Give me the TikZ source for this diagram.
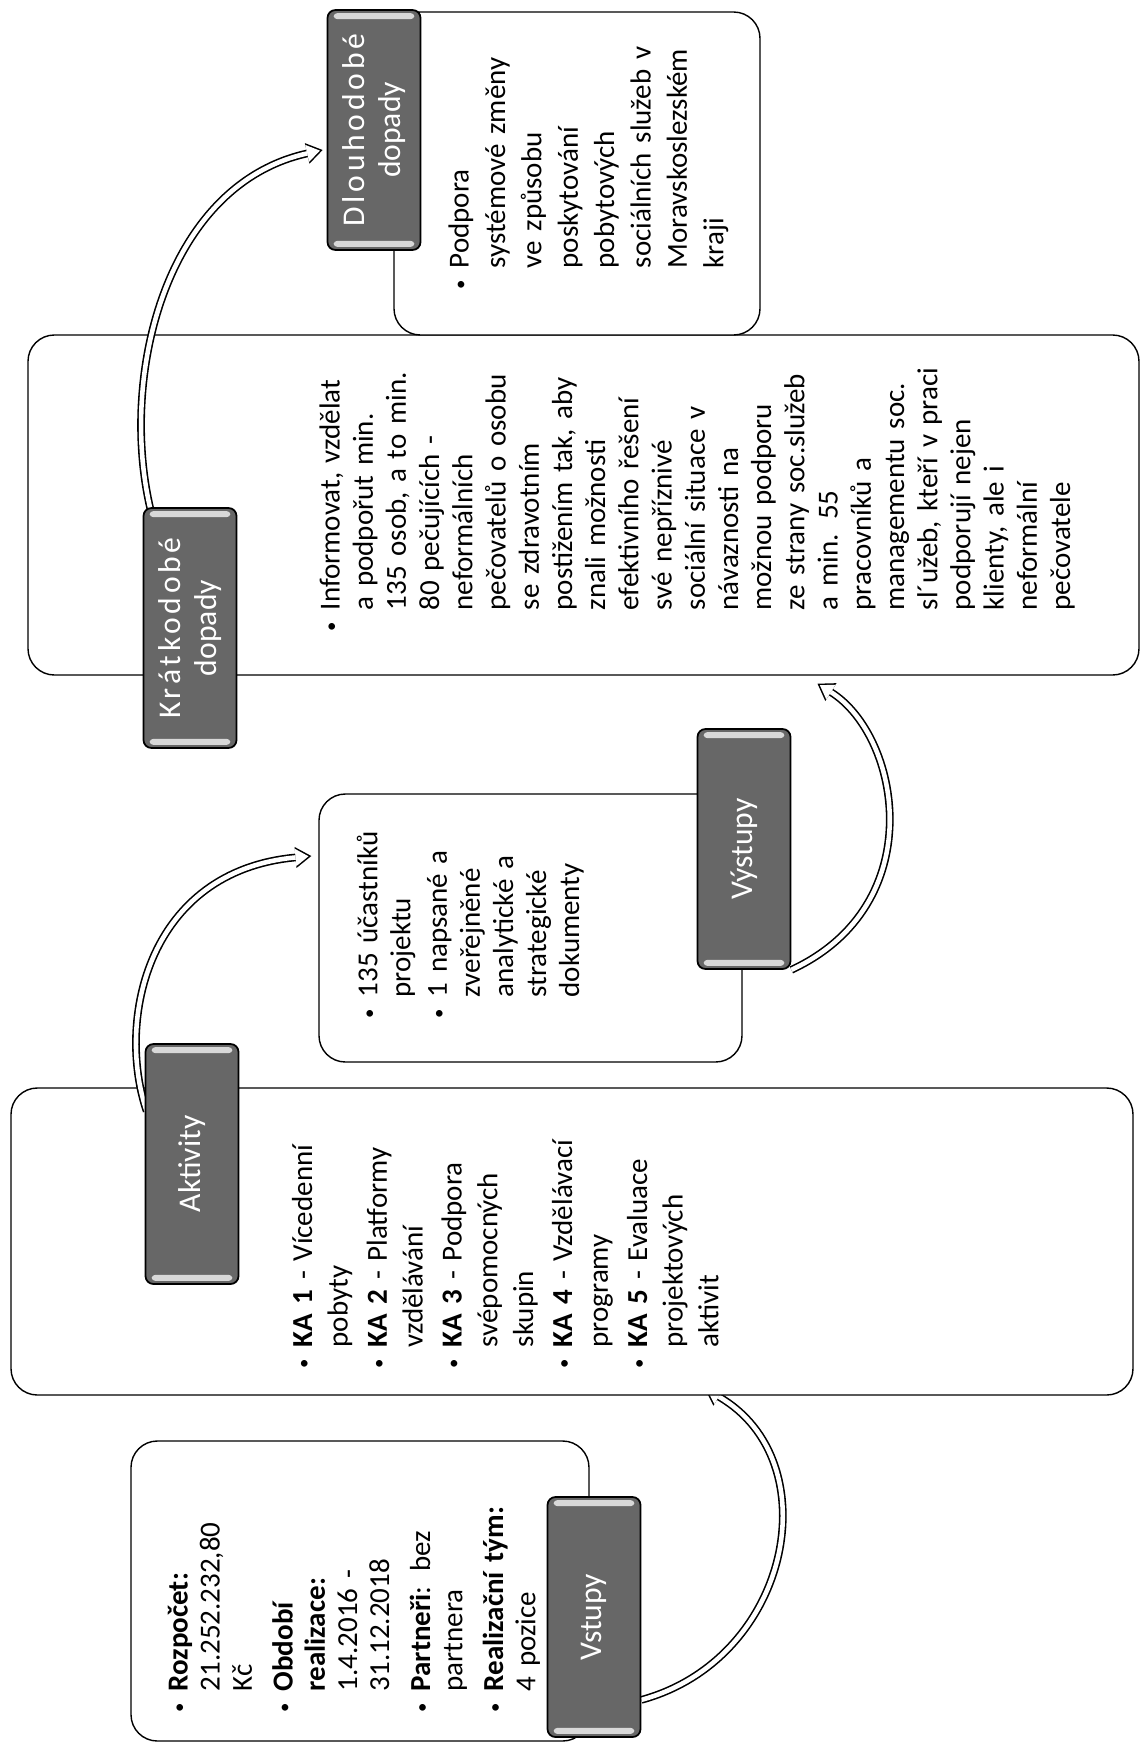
\documentclass[tikz,border=0pt]{standalone}
\usepackage{fontspec}
\setmainfont{Carlito}
\usepackage{enumitem}
\usetikzlibrary{calc,fit,arrows.meta}

\definecolor{lblgray}{HTML}{676767}
\newcommand{\blt}{\raisebox{0.08em}{\scalebox{0.65}{\textbullet}}}
\newcommand{\wide}[1]{{\addfontfeatures{LetterSpace=12}#1}}
\setlist[itemize]{label=\blt, leftmargin=15pt, labelsep=7pt, topsep=0pt, partopsep=0pt, parsep=0pt, itemsep=3pt}

\pgfdeclarelayer{back}
\pgfdeclarelayer{front}
\pgfsetlayers{back,main,front}

\tikzset{
	itembox/.style={draw=black, line width=0.8pt, fill=white, rounded corners=15pt, inner sep=0pt},
	headlbl/.style={draw=black, line width=1pt, fill=lblgray, rounded corners=4.5pt, rotate=90,
		minimum width=4.8cm, minimum height=1.86cm, inner sep=1pt, text=white, align=center,
		font=\fontsize{18}{20}\selectfont},
	bodytext/.style={rotate=90, anchor=north west, inner sep=0pt, text width=6.2cm,
		execute at begin node=\raggedright},
	hilite/.style={fill=white, opacity=0.75, rounded corners=2pt},
	flow/.style={draw=white, line width=2.6pt, shorten >=1.6pt,
		-{Triangle[length=7.4pt, width=9.9pt, line width=0pt]},
		preaction={draw=black, line width=4.4pt, shorten >=0pt,
			-{Triangle[length=9pt, width=12pt, line width=0pt]}}}
}

\begin{document}
\begin{tikzpicture}[x=0.02cm, y=-0.02cm]
	\useasboundingbox (0,0) rectangle (1142,1751);

	%content boxes
	\node[itembox, fit={(131,1441) (589,1741)}] (vstupybox) {};
	\node[itembox, fit={(11,1088) (1133,1395)}] (aktivitybox) {};
	\node[itembox, fit={(319,794) (742,1062)}] (vystupybox) {};
	\node[itembox, fit={(28,335) (1139,675)}] (kratkobox) {};
	\node[itembox, fit={(394,12) (760,335)}] (dlouhobox) {};

	%texts
	\node[bodytext, font=\fontsize{16.5}{18.3}\selectfont] (vstupytext) at (155,1718) {%
		\begin{itemize}[itemsep=5pt]
			\item \textbf{Rozpočet:}\\ 21.252.232,80\\ Kč
			\item \textbf{Období}\\ \textbf{realizace:}\\ 1.4.2016 -\\ 31.12.2018
			\item \textbf{Partneři}: bez\\ partnera
			\item \textbf{Realizační tým:}\\ 4 pozice
		\end{itemize}};
	\node[bodytext, font=\fontsize{16.5}{20.3}\selectfont] (aktivitytext) at (276,1374) {%
		\begin{itemize}[itemsep=2pt]
			\item \textbf{KA 1} - Vícedenní\\ pobyty
			\item \textbf{KA 2} - Platformy\\ vzdělávání
			\item \textbf{KA 3} - Podpora\\ svépomocných\\ skupin
			\item \textbf{KA 4} - Vzdělávací\\ programy
			\item \textbf{KA 5} - Evaluace\\ projektových\\ aktivit
		\end{itemize}};
	\node[bodytext, font=\fontsize{16.5}{18.8}\selectfont] (vystupytext) at (344,1024) {%
		\begin{itemize}[itemsep=2pt]
			\item 135 účastníků\\ projektu
			\item 1 napsané a\\ zveřejněné\\ analytické a\\ strategické\\ dokumenty
		\end{itemize}};
	\node[bodytext, font=\fontsize{16.5}{18.9}\selectfont] (kratkotext) at (306,637) {%
		\begin{itemize}
			\item Informovat, vzdělat\\ a podpořut min.\\ 135 osob, a to min.\\ 80 pečujících -\\
			neformálních\\ pečovatelů o osobu\\ se zdravotním\\ postižením tak, aby\\
			znali možnosti\\ efektivního řešení\\ své nepříznivé\\ sociální situace v\\
			návaznosti na\\ možnou podporu\\ ze strany soc.služeb\\ a min. 55\\
			pracovníků a\\ managementu soc.\\ sl´užeb, kteří v praci\\ podporují nejen\\
			klienty, ale i\\ neformální\\ pečovatele
		\end{itemize}};
	\node[bodytext, font=\fontsize{16.5}{20.7}\selectfont] (dlouhotext) at (432,295) {%
		\begin{itemize}
			\item Podpora\\ systémové změny\\ ve způsobu\\ poskytování\\ pobytových\\
			sociálních služeb v\\ Moravskoslezském\\ kraji
		\end{itemize}};

	%labels
	\begin{pgfonlayer}{front}
		\node[headlbl] (vstupy) at (594,1617) {Vstupy};
		\node[headlbl] (aktivity) at (192,1164) {Aktivity};
		\node[headlbl] (vystupy) at (744,849) {Výstupy};
		\node[headlbl] (kratko) at (190,628) {\wide{Krátkodobé}\\dopady};
		\node[headlbl] (dlouho) at (374,130) {\wide{Dlouhodobé}\\dopady};
		\foreach \n in {vstupy,aktivity,vystupy,kratko,dlouho}{
			\fill[hilite] ($(\n.north east)+(7,4)$) rectangle ($(\n.south east)+(-7,10)$);
			\fill[hilite] ($(\n.north west)+(7,-4)$) rectangle ($(\n.south west)+(-7,-10)$);
		}
	\end{pgfonlayer}

	%arrows
	\begin{pgfonlayer}{back}
		\draw[flow] ($(vstupy.south west)+(0,-38)$) .. controls +(150,-41) and +(125,72) .. ($(aktivitybox.south)+(133,-7)$);
	\end{pgfonlayer}
	\draw[flow] ($(aktivity.north east)+(2,68)$) .. controls +(-31,-92) and +(-163,15) .. ($(vystupybox.west)+(-7,-72)$);
	\draw[flow] (vystupy.south west) .. controls +(140,-65) and +(83,52) .. ($(kratkobox.south)+(234,8)$);
	\draw[flow] ($(kratko.north east)+(9,7)$) .. controls +(-34,-135) and +(-158,35) .. ($(dlouho.north)+(-4,20)$);
\end{tikzpicture}
\end{document}
